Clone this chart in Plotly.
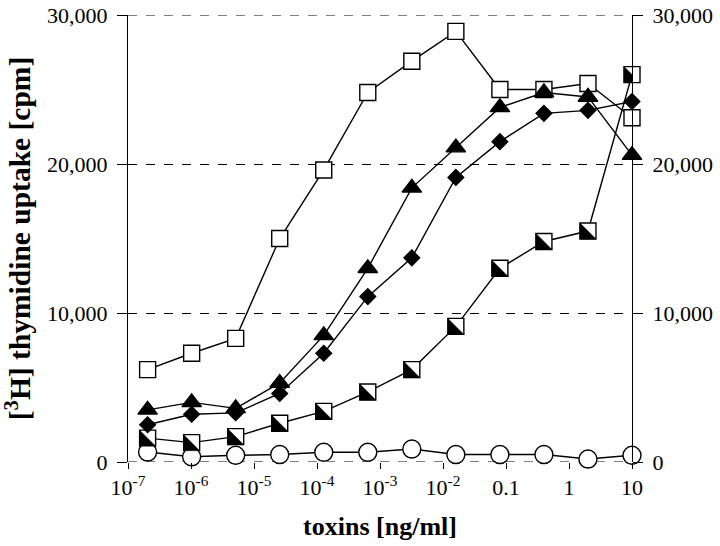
import plotly.graph_objects as go

# toxin concentrations (ng/ml), 5-fold dilution series
conc = [2.048e-7, 1.024e-6, 5.12e-6, 2.56e-5, 1.28e-4, 6.4e-4, 3.2e-3, 1.6e-2, 0.08, 0.4, 2, 10]

# [3H] thymidine uptake (cpm)
open_squares = [6200, 7300, 8300, 15000, 19600, 24800, 26900, 28900, 25000, 25000, 25400, 23100]
triangles = [3500, 4000, 3600, 5300, 8500, 13000, 18400, 21100, 23800, 24800, 24500, 20600]
diamonds = [2500, 3200, 3300, 4600, 7300, 11100, 13700, 19100, 21500, 23400, 23600, 24200]
half_squares = [1600, 1300, 1700, 2600, 3400, 4700, 6200, 9100, 13000, 14800, 15500, 26000]
circles = [670, 350, 450, 500, 650, 650, 870, 500, 500, 500, 200, 450]

x_tickvals = [1e-7, 1e-6, 1e-5, 1e-4, 1e-3, 1e-2, 0.1, 1, 10]
x_ticktext = ["10<sup>-7</sup>", "10<sup>-6</sup>", "10<sup>-5</sup>", "10<sup>-4</sup>",
              "10<sup>-3</sup>", "10<sup>-2</sup>", "0.1", "1", "10"]
y_tickvals = [0, 10000, 20000, 30000]
y_ticktext = ["0", "10,000", "20,000", "30,000"]

FONT = "Liberation Serif, Times New Roman, serif"
LINE = dict(color="black", width=1.4)

fig = go.Figure()

def add(yvals, symbol, size, fill):
    fig.add_trace(go.Scatter(
        x=conc, y=yvals, mode="lines+markers", line=LINE, cliponaxis=False,
        marker=dict(symbol=symbol, size=size, color=fill,
                    line=dict(color="black", width=1.4)),
        showlegend=False))

add(open_squares, "square", 16, "white")
add(half_squares, "square", 16, "white")
add(diamonds, "diamond", 12, "black")
add(triangles, "triangle-up", 17, "black")
add(circles, "circle", 18, "white")

# invisible trace so the right-hand axis is drawn
fig.add_trace(go.Scatter(x=[conc[0]], y=[y_tickvals[0]], yaxis="y2", mode="markers",
                         marker=dict(opacity=0), hoverinfo="skip", showlegend=False))

shapes = []
# dashed reference lines at the range ends (top and bottom of the frame)
for yv in (y_tickvals[0], y_tickvals[-1]):
    shapes.append(dict(type="line", xref="paper", yref="y", x0=0, x1=1, y0=yv, y1=yv,
                       line=dict(color="black", width=1, dash="dash"), layer="below"))

# black lower-left halves of the half-filled squares
h = 8
for xv, yv in zip(conc, half_squares):
    shapes.append(dict(
        type="path", xref="x", yref="y", xsizemode="pixel", ysizemode="pixel",
        xanchor=xv, yanchor=yv,
        path=f"M {-h},{h} L {-h},{-h} L {h},{-h} Z",
        fillcolor="black", line=dict(color="black", width=0.5), layer="above"))

fig.update_layout(
    width=720, height=546,
    margin=dict(l=128, r=88, t=15, b=84),
    paper_bgcolor="white", plot_bgcolor="white",
    font=dict(family=FONT, size=22, color="black"),
    shapes=shapes,
    xaxis=dict(
        type="log", range=[-7, 1], tickvals=x_tickvals, ticktext=x_ticktext,
        ticks="outside", ticklen=6, tickwidth=1, tickcolor="black",
        showline=False, showgrid=False, zeroline=False, automargin=False,
        title=dict(text="<b>toxins [ng/ml]</b>", font=dict(size=26), standoff=17),
    ),
    yaxis=dict(
        range=[0, 30000], tickvals=y_tickvals, ticktext=y_ticktext,
        ticks="outside", ticklen=10, tickwidth=1, tickcolor="black",
        ticklabelstandoff=5,
        showline=True, linecolor="black", linewidth=1,
        showgrid=True, gridcolor="black", griddash="dash", gridwidth=1,
        zeroline=False, automargin=False,
        title=dict(text="<b>[<sup>3</sup>H] thymidine uptake [cpm]</b>", font=dict(size=29.5), standoff=10),
    ),
    yaxis2=dict(
        overlaying="y", side="right", anchor="x",
        range=[0, 30000], tickvals=y_tickvals, ticktext=y_ticktext,
        ticks="outside", ticklen=10, tickwidth=1, tickcolor="black",
        ticklabelstandoff=5,
        showline=True, linecolor="black", linewidth=1,
        showgrid=False, zeroline=False, automargin=False,
    ),
)

# remove the default page margin so the figure sits at the window's corner
fig.write_html("out.html", config={"displayModeBar": False},
               post_script="document.body.style.margin='0';document.body.style.padding='0';")
